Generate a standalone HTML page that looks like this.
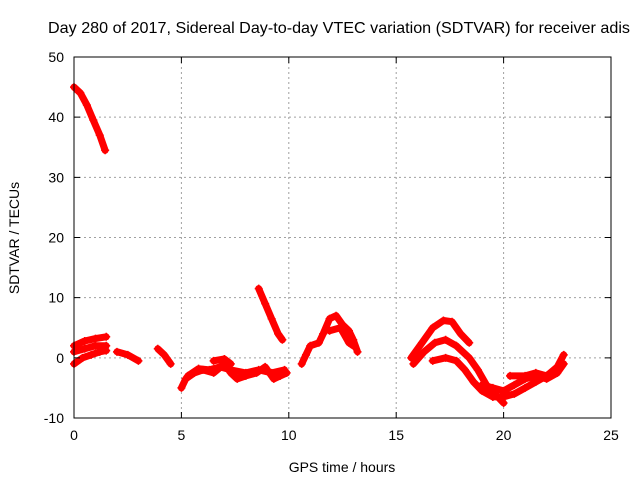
<!DOCTYPE html>
<html><head><meta charset="utf-8"><style>
body{margin:0;background:#fff}
svg{display:block;font-family:"Liberation Sans",sans-serif}
</style></head><body>
<svg id="chart" width="640" height="480" viewBox="0 0 640 480">
<rect width="640" height="480" fill="#fff"/>
<text x="339" y="33" font-size="16" text-anchor="middle" textLength="582" lengthAdjust="spacingAndGlyphs">Day 280 of 2017, Sidereal Day-to-day VTEC variation (SDTVAR) for receiver adis</text>
<g id="grid"></g>
<g id="series"></g>
<rect x="74" y="57" width="537" height="361" fill="none" stroke="#000" stroke-width="1"/>
<g id="ticks"></g>
<text x="342" y="472" font-size="14" text-anchor="middle">GPS time / hours</text>
<text x="19" y="238" font-size="14" text-anchor="middle" transform="rotate(-90 19 238)">SDTVAR / TECUs</text>
</svg>
<script>
const xTicks=[0,5,10,15,20,25];
const yTicks=[-10,0,10,20,30,40,50];
const segA=[[0,45],[0.3,44],[0.6,42],[0.9,39.5],[1.2,37],[1.45,34.5]];
const segB=[[8.6,11.5],[8.9,9],[9.2,6.5],[9.5,4],[9.7,3]];
const early1=[[0,2],[0.5,2.8],[1,3.2],[1.5,3.5]];
const early2=[[0,1],[0.5,1.5],[1,2],[1.5,2]];
const early3=[[0,-1],[0.4,0],[0.8,0.5],[1.2,1],[1.5,1.2]];
const seg2h=[[2,1],[2.5,0.5],[3,-0.5]];
const seg4h=[[3.9,1.5],[4.2,0.5],[4.5,-1]];
const seg5h=[[5,-5],[5.2,-3.5],[5.6,-2.5],[6,-2],[6.5,-2.5],[7,-1],[7.3,-2.5],[7.6,-3.5],[8,-3],[8.5,-2.5],[8.9,-1.5],[9.3,-3.5],[9.6,-3],[9.9,-2.5]];
const seg5b=[[5.3,-3],[5.8,-1.8],[6.3,-2],[6.8,-1.5],[7.3,-2],[8,-2.5],[8.6,-2],[9.2,-2.5],[9.8,-2]];
const seg6h=[[6.5,-0.5],[7,-0.2],[7.3,-1]];
const seg11a=[[10.6,-1],[10.8,0.5],[11,2],[11.4,2.5],[11.6,4],[11.9,6.5],[12.2,7],[12.5,5.5],[12.8,4.5],[13,3],[13.2,1]];
const seg11b=[[11.9,4.5],[12.4,5],[12.8,2.5],[13,2]];
const segUp=[[15.7,0],[16.2,2.5],[16.7,5],[17.2,6.2],[17.6,6],[18,4],[18.4,2.5]];
const segMid=[[15.8,-1],[16.3,1],[16.8,2.5],[17.3,3],[17.8,2],[18.4,0],[18.8,-2],[19.2,-4.5],[19.6,-6],[20,-7.5]];
const segLow=[[16.7,-0.5],[17.3,0],[17.8,-0.5],[18.2,-2],[18.6,-4],[19,-5.5],[19.5,-6.5],[20,-6.5],[20.5,-6],[21,-5],[21.5,-4],[22,-3],[22.5,-1.5],[22.8,0.5]];
const segLate=[[19,-4.5],[19.5,-5],[20,-5.5],[20.5,-4.5],[21,-3.5],[21.5,-3],[22,-3.5],[22.5,-2.5],[22.8,-1]];
const segLate2=[[20.3,-3],[21,-3],[21.5,-2.5],[22,-3],[22.6,-1.5]];
const allSeries=[segA,segB,early1,early2,early3,seg2h,seg4h,seg5h,seg5b,seg6h,seg11a,seg11b,segUp,segMid,segLow,segLate,segLate2];
const X0=74,X1=611,Y0=418,Y1=57;
const sx=v=>X0+(v-0)/(25-0)*(X1-X0);
const sy=v=>Y0-(v+10)/(60)*(Y0-Y1);
const NS="http://www.w3.org/2000/svg";
const grid=document.getElementById('grid'),ticks=document.getElementById('ticks'),ser=document.getElementById('series');
function mk(tag,at,parent){const e=document.createElementNS(NS,tag);for(const k in at)e.setAttribute(k,at[k]);parent.appendChild(e);return e;}
xTicks.forEach(t=>{
  const x=sx(t);
  if(t>0&&t<25){const g=mk('line',{x1:x,x2:x,y1:Y1,y2:Y0,stroke:'#a0a0a0','stroke-dasharray':'2,3'},grid);
  
  }
  const tk=mk('path',{d:`M${x} ${Y0}v-6M${x} ${Y1}v6`,stroke:'#000'},ticks);
  
  
  const l=mk('text',{x:x,y:Y0+22,'font-size':14,'text-anchor':'middle'},ticks);
  l.textContent=t;
  
  
});
yTicks.forEach(t=>{
  const y=sy(t);
  if(t>-10&&t<50){const g=mk('line',{x1:X0,x2:X1,y1:y,y2:y,stroke:'#a0a0a0','stroke-dasharray':'2,3'},grid);
  
  }
  const tk=mk('path',{d:`M${X0} ${y}h6M${X1} ${y}h-6`,stroke:'#000'},ticks);
  
  
  const l=mk('text',{x:X0-10,y:y+5,'font-size':14,'text-anchor':'end'},ticks);
  l.textContent=t;
  
  
});
allSeries.forEach(s=>{
  const d=s.map((p,i)=>(i?'L':'M')+sx(p[0]).toFixed(1)+' '+sy(p[1]).toFixed(1)).join('');
  const pl=mk('path',{d:d,fill:'none',stroke:'#f00','stroke-width':7,'stroke-linejoin':'round','stroke-linecap':'round'},ser);
  
  
  s.forEach(p=>{
    const x=sx(p[0]),y=sy(p[1]);
    const m=mk('path',{d:`M${x-4} ${y}h8M${x} ${y-4}v8`,stroke:'#f00','stroke-width':1.5},ser);
    
    
  });
});
</script>
</body></html>
